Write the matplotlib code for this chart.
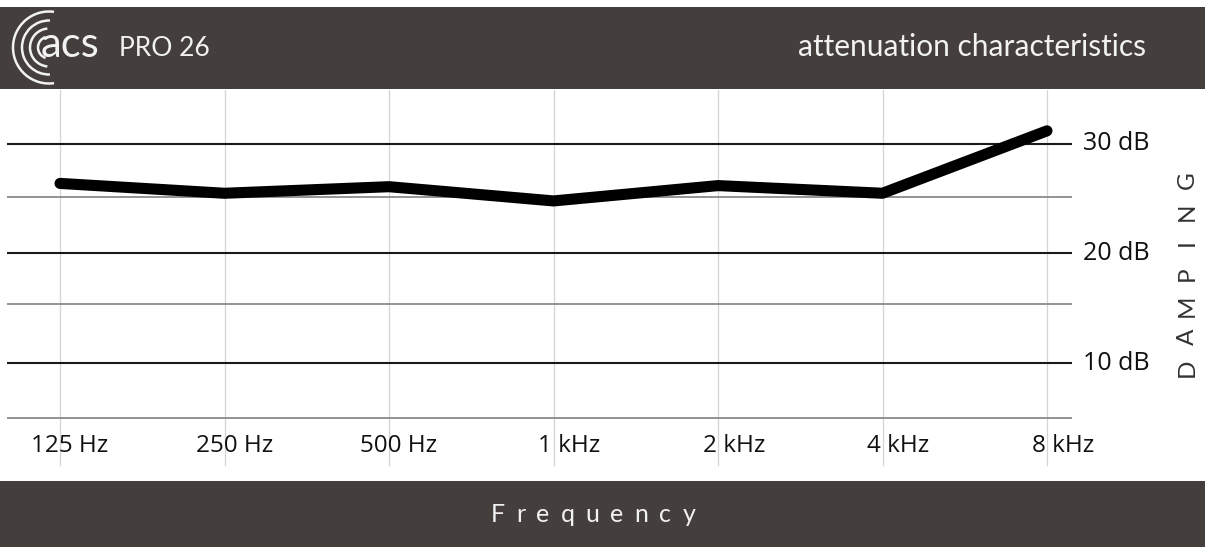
import numpy as np
import matplotlib
matplotlib.use("Agg")
import matplotlib.pyplot as plt
from matplotlib.patches import Rectangle, Arc
from matplotlib.transforms import blended_transform_factory

# data
freq_num = ["125", "250", "500", "1", "2", "4", "8"]
freq_unit = ["Hz", "Hz", "Hz", "kHz", "kHz", "kHz", "kHz"]
damping_db = [26.4, 25.5, 26.1, 24.8, 26.2, 25.5, 31.2]
major_db = [10, 20, 30]
minor_db = [5.0, 15.4, 25.2]
major_labels = ["10 dB", "20 dB", "30 dB"]

W, H = 1205, 547
BAND = "#443e3d"
TXT_LIGHT = "#f2f2f2"

fig = plt.figure(figsize=(W / 100, H / 100), dpi=100)
fig.patch.set_facecolor("white")
renderer = fig.canvas.get_renderer()

# overlay in pixel units for bands / logo
bg = fig.add_axes([0, 0, 1, 1], zorder=0)
bg.set_xlim(0, W)
bg.set_ylim(H, 0)
bg.axis("off")

bg.add_patch(Rectangle((0, 7), W, 82, color=BAND, lw=0))
bg.add_patch(Rectangle((0, 481), W, 70, color=BAND, lw=0))

# logo arcs
for r, a in zip([36, 27, 19, 11], [82, 88, 95, 108]):
    bg.add_patch(Arc((49, 47.5), 2 * r, 2 * r, theta1=a, theta2=360 - a,
                     color=TXT_LIGHT, lw=1.8))
bg.text(41, 45, "acs", color=TXT_LIGHT, fontsize=30, family="Lato",
        ha="left", va="center")
bg.text(119, 48, "PRO 26", color=TXT_LIGHT, fontsize=19, family="Lato",
        ha="left", va="center")
bg.text(1146, 47, "attenuation characteristics", color=TXT_LIGHT, fontsize=21.5,
        family="Lato", ha="right", va="center")


def width_of(ax, s, **kw):
    t = ax.text(0, 0, s, **kw)
    w = t.get_window_extent(renderer).width
    t.remove()
    return w


def tracked(ax, s, xc, y, gap, **kw):
    # letter-spaced text centred at xc
    widths = [width_of(ax, ch, **kw) for ch in s]
    total = sum(widths) + gap * (len(s) - 1)
    x = xc - total / 2
    for ch, w in zip(s, widths):
        ax.text(x, y, ch, ha="left", va="center", **kw)
        x += w + gap


tracked(bg, "Frequency", 593, 514, 11, color=TXT_LIGHT, fontsize=18,
        family="Lato")

# DAMPING, rotated, uniform pitch
for i, ch in enumerate("DAMPING"):
    bg.text(1187, 368 - i * 31.3, ch, rotation=90, ha="center", va="center",
            color="#333333", fontsize=17.5, family="Lato")

# main chart
ax = fig.add_axes([7 / W, 1 - 470 / H, 1065 / W, 380 / H], zorder=1)
ax.patch.set_alpha(0)
x = np.arange(len(freq_num))
ax.set_xlim(-53 / 164.5, 6 + 25 / 164.5)
ax.set_ylim(0.23, 34.93)
for s in ax.spines.values():
    s.set_visible(False)
ax.set_xticks([])
ax.set_yticks([])

for xi in x:
    ax.axvline(xi, ymin=5 / 380, color="#d4d4d4", lw=0.9, zorder=1)
for v in minor_db:
    ax.axhline(v, color="#8a8a8a", lw=1.3, zorder=2)
for v in major_db:
    ax.axhline(v, color="#1a1a1a", lw=1.5, zorder=2)

ax.plot(x, damping_db, color="black", lw=8, solid_capstyle="round",
        solid_joinstyle="round", zorder=3)

# x labels sit a little right of their gridline
tick_kw = dict(fontsize=17.5, family="Open Sans", color="#111111")
px = 164.5  # pixels per category step
lab_tr = blended_transform_factory(ax.transData, ax.transAxes)
for xi, num, unit in zip(x, freq_num, freq_unit):
    w_unit = width_of(ax, unit, **tick_kw)
    ax.text(xi + (w_unit / 2 - 5) / px, (470 - 446.5) / 380, num + " " + unit,
            transform=lab_tr, ha="center", va="center", **tick_kw)

ylab_tr = blended_transform_factory(ax.transAxes, ax.transData)
for v, lab in zip(major_db, major_labels):
    ax.text(1 + 11 / 1065, v, lab, transform=ylab_tr, ha="left", va="center",
            fontsize=18, family="Open Sans", color="#111111")

fig.savefig("out.png", dpi=100)
